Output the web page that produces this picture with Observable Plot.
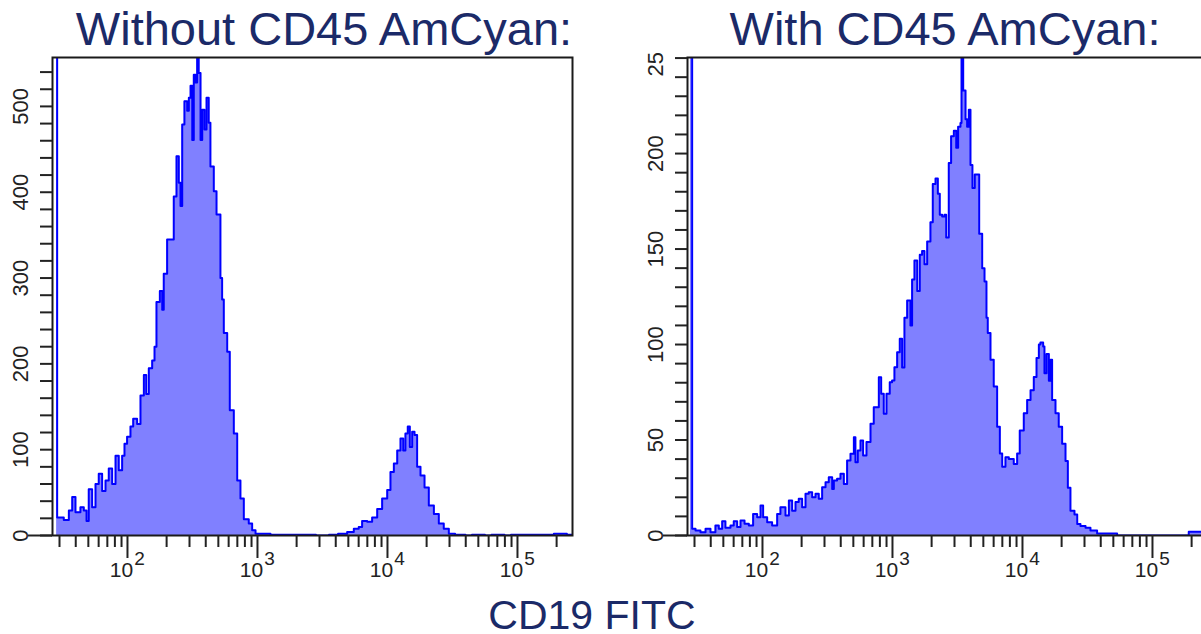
<!DOCTYPE html>
<html>
<head>
<meta charset="utf-8">
<script src="https://cdn.jsdelivr.net/npm/d3@7"></script>
<script src="https://cdn.jsdelivr.net/npm/@observablehq/plot@0.6"></script>
<style>
  html, body { margin: 0; padding: 0; background: #fff; }
  body { width: 1201px; height: 634px; overflow: hidden; position: relative; font-family: "Liberation Sans", Arial, sans-serif; }
  .ttl { position: absolute; width: 600px; text-align: center; color: #1b2a68; line-height: 1; white-space: nowrap; }
  .panel { position: absolute; top: 52px; width: 600px; height: 548px; }
  .panel svg { max-width: none !important; }
</style>
</head>
<body>
<div class="ttl" style="left:24px; top:5px; font-size:47px;">Without CD45 AmCyan:</div>
<div class="ttl" style="left:645px; top:5px; font-size:47px;">With CD45 AmCyan:</div>
<div class="ttl" style="left:292px; top:598px; font-size:41px; line-height:0.85;">CD19 FITC</div>
<div id="left" class="panel" style="left:0px;"></div>
<div id="right" class="panel" style="left:635px;"></div>
<script>
// ---- Data: x positions are log10(CD19 FITC), counts are event counts ----
const xLeftLog = [1.455,1.459,1.510,1.549,1.575,1.600,1.638,1.664,1.685,1.702,1.728,1.754,1.779,1.805,1.831,1.856,1.882,1.908,1.933,1.959,1.977,1.997,2.023,2.044,2.074,2.100,2.126,2.144,2.164,2.190,2.208,2.223,2.249,2.267,2.279,2.305,2.331,2.356,2.377,2.395,2.408,2.421,2.438,2.459,2.472,2.485,2.498,2.510,2.523,2.536,2.548,2.562,2.575,2.592,2.608,2.625,2.638,2.664,2.685,2.715,2.728,2.741,2.767,2.787,2.818,2.844,2.869,2.895,2.933,2.959,2.985,3.023,3.100,3.200,3.350,3.450,3.550,3.620,3.690,3.741,3.779,3.805,3.844,3.882,3.921,3.959,3.998,4.023,4.049,4.075,4.100,4.121,4.138,4.156,4.172,4.190,4.208,4.228,4.254,4.285,4.318,4.357,4.395,4.433,4.472,4.520,4.600,4.650,4.750,4.800,4.900,4.950,5.280,5.380,5.423];
const countLeft = [2000,21,18,29,45,27,33,29,17,54,33,60,72,52,64,78,60,93,76,93,107,115,127,136,130,163,187,165,195,204,220,272,285,263,305,345,345,395,442,411,384,479,506,495,510,524,461,537,528,560,539,461,496,473,510,481,430,401,374,300,275,236,214,146,119,64,43,19,14,6,2,2,1,1,1,0,1,2,4,8,10,17,16,21,31,43,53,74,84,99,113,99,119,127,103,121,117,80,70,56,35,25,14,8,2,1,0,1,0,1,0,1,2,1,1];

const xRightLog = [1.446,1.459,1.485,1.523,1.562,1.600,1.638,1.664,1.690,1.715,1.754,1.779,1.805,1.831,1.862,1.895,1.928,1.959,1.985,2.005,2.036,2.074,2.113,2.138,2.177,2.203,2.228,2.254,2.279,2.305,2.331,2.356,2.382,2.408,2.433,2.459,2.485,2.510,2.536,2.549,2.574,2.600,2.626,2.651,2.677,2.703,2.715,2.733,2.754,2.774,2.800,2.831,2.856,2.882,2.895,2.913,2.933,2.954,2.979,2.997,3.015,3.036,3.056,3.074,3.092,3.113,3.138,3.151,3.169,3.190,3.210,3.228,3.246,3.267,3.292,3.310,3.331,3.349,3.364,3.382,3.400,3.413,3.433,3.451,3.472,3.490,3.505,3.523,3.531,3.544,3.562,3.574,3.587,3.600,3.615,3.633,3.651,3.667,3.690,3.708,3.723,3.733,3.754,3.779,3.805,3.826,3.844,3.869,3.895,3.933,3.959,3.979,4.010,4.036,4.062,4.087,4.108,4.126,4.138,4.159,4.169,4.185,4.203,4.215,4.228,4.254,4.279,4.305,4.331,4.349,4.369,4.400,4.421,4.446,4.485,4.523,4.574,4.728,5.279,5.369,5.423];
const countRight = [2000,3.5,2.6,1.7,3.5,1.7,5.2,3.5,7.5,4,5.2,7.5,4.4,7.9,6.1,5.2,11.3,9.6,15.7,9.6,7,5.2,11.3,14.8,10.5,18.3,13,17.5,19.2,14.8,21.8,22.7,20,21.8,19.2,25.3,27.9,30.5,24.4,28.8,29.7,32.3,27,39.3,42.8,51.5,38.4,44.5,49.7,41.9,48.9,58.5,67.2,67.2,82.9,74.2,63.7,74.2,80.3,81.2,88.1,96,103,88,114,123,110,134,144,128,147,149,142,154,164,184,187,179,168,167,168,156,195,209,212,203,214,216,260,233,218,214,223,194,182,189,189,158,140,133,114,106,92,78,57,43,36,41,40,37.5,43,55,64,71,76,83,93,100,101,99,85,95,81,92,71,64,57,48,39,25,13,11,6,5,4,2.6,1,0,2,2,2];

// ---- Axis ticks and labels ----
const xMinorTicks = [30,40,50,60,70,80,90,200,300,400,500,600,700,800,900,2000,3000,4000,5000,6000,7000,8000,9000,20000,30000,40000,50000,60000,70000,80000,90000,200000];
const xMajorTicks = [100,1000,10000,100000];
const xExponents = ["2","3","4","5"];
const yTicksLeft = [0,20,40,60,80,100,120,140,160,180,200,220,240,260,280,300,320,340,360,380,400,420,440,460,480,500,520,540];
const yLabelsLeft = [0,100,200,300,400,500];
const yTicksRight = [0,10,20,30,40,50,60,70,80,90,100,110,120,130,140,150,160,170,180,190,200,210,220,230,240,250];
const yLabelsRight = [0,50,100,150,200,250];
const xDomain = [26.5, 265000];

function panel(xsLog, counts, yMax, yTicks, yLabels) {
  const data = xsLog.map((l, i) => ({x: Math.pow(10, l), y: counts[i]}));
  const decades = xMajorTicks.map((v, i) => ({v, e: xExponents[i]}));
  const ink = "#222";
  return Plot.plot({
    width: 600, height: 548,
    marginLeft: 52, marginRight: 28, marginTop: 5, marginBottom: 65,
    x: {type: "log", domain: xDomain, label: null},
    y: {domain: [0, yMax], label: null},
    style: {overflow: "hidden", background: "transparent", maxWidth: "none", fontFamily: "'Liberation Sans', Arial, sans-serif", color: ink},
    marks: [
      Plot.areaY(data, {x: "x", y: "y", curve: "step-after", fill: "#8080ff", clip: true}),
      Plot.lineY(data, {x: "x", y: "y", curve: "step-after", stroke: "#0000ff", strokeWidth: 2, clip: true}),
      Plot.frame({stroke: "#1a1a1a", strokeWidth: 2}),
      Plot.axisX(xMinorTicks, {anchor: "bottom", tickSize: 12, strokeWidth: 2, stroke: ink, fill: "none", tickFormat: () => "", label: null}),
      Plot.axisX(xMajorTicks, {anchor: "bottom", tickSize: 23, strokeWidth: 2, stroke: ink, fill: "none", tickFormat: () => "", label: null}),
      Plot.axisY(yTicks, {anchor: "left", tickSize: 12, strokeWidth: 2, stroke: ink, fill: "none", tickFormat: () => "", label: null}),
      Plot.axisY([0], {anchor: "left", tickSize: 24, strokeWidth: 2, stroke: ink, fill: "none", tickFormat: () => "", label: null}),
      Plot.text(decades, {x: "v", text: () => "10", frameAnchor: "bottom", dy: 41, dx: -6, fontSize: 21, fill: ink}),
      Plot.text(decades, {x: "v", text: "e", frameAnchor: "bottom", dy: 29, dx: 12, fontSize: 19, fill: ink}),
      Plot.text(yLabels, {y: d => d, text: d => String(d), frameAnchor: "left", textAnchor: "middle", lineAnchor: "middle", dx: -32, rotate: -90, fontSize: 22, fill: ink})
    ]
  });
}

document.getElementById("left").appendChild(panel(xLeftLog, countLeft, 557, yTicksLeft, yLabelsLeft));
document.getElementById("right").appendChild(panel(xRightLog, countRight, 250.3, yTicksRight, yLabelsRight));
</script>
</body>
</html>
